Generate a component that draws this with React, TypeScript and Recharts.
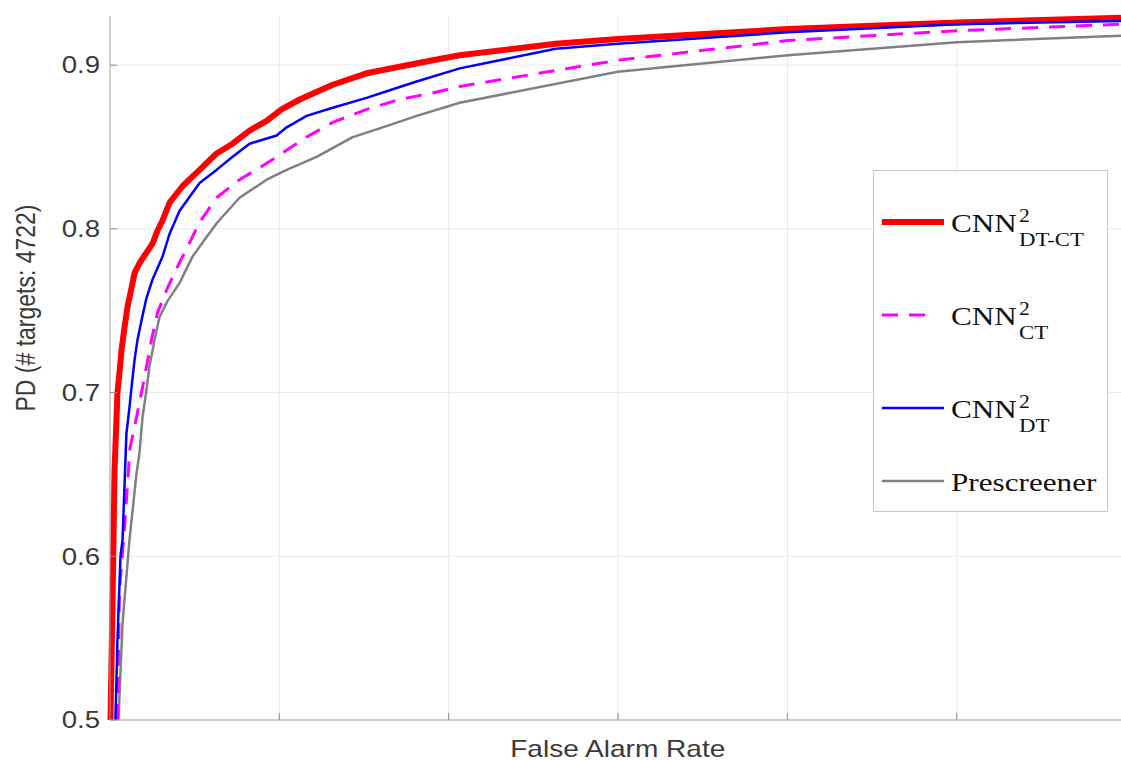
import React from 'react';
import { LineChart, Line, XAxis, YAxis, CartesianGrid, Legend } from 'recharts';

// false alarm rate (x) / probability of detection (y)
const dtCtCurve = [
  { far: 0.003, pd: 0.5 }, { far: 0.015, pd: 0.573 }, { far: 0.027, pd: 0.653 }, { far: 0.038, pd: 0.683 },
  { far: 0.044, pd: 0.7 }, { far: 0.056, pd: 0.712 }, { far: 0.068, pd: 0.726 }, { far: 0.086, pd: 0.74 },
  { far: 0.103, pd: 0.752 }, { far: 0.127, pd: 0.764 }, { far: 0.145, pd: 0.773 }, { far: 0.174, pd: 0.779 },
  { far: 0.251, pd: 0.791 }, { far: 0.281, pd: 0.799 }, { far: 0.31, pd: 0.805 }, { far: 0.352, pd: 0.816 },
  { far: 0.428, pd: 0.826 }, { far: 0.529, pd: 0.836 }, { far: 0.629, pd: 0.846 }, { far: 0.724, pd: 0.852 },
  { far: 0.824, pd: 0.86 }, { far: 0.925, pd: 0.866 }, { far: 1.013, pd: 0.873 }, { far: 1.12, pd: 0.879 },
  { far: 1.315, pd: 0.888 }, { far: 1.515, pd: 0.895 }, { far: 1.71, pd: 0.899 }, { far: 1.906, pd: 0.903 },
  { far: 2.065, pd: 0.906 }, { far: 2.632, pd: 0.913 }, { far: 2.999, pd: 0.916 }, { far: 4.003, pd: 0.922 },
  { far: 5.001, pd: 0.926 }, { far: 5.97, pd: 0.929 },
];

const ctCurve = [
  { far: 0.044, pd: 0.5 }, { far: 0.056, pd: 0.579 }, { far: 0.086, pd: 0.618 }, { far: 0.118, pd: 0.666 },
  { far: 0.157, pd: 0.685 }, { far: 0.186, pd: 0.7 }, { far: 0.216, pd: 0.716 }, { far: 0.245, pd: 0.732 },
  { far: 0.281, pd: 0.749 }, { far: 0.34, pd: 0.764 }, { far: 0.399, pd: 0.777 }, { far: 0.458, pd: 0.789 },
  { far: 0.529, pd: 0.804 }, { far: 0.629, pd: 0.819 }, { far: 0.765, pd: 0.83 }, { far: 0.925, pd: 0.84 },
  { far: 1.043, pd: 0.848 }, { far: 1.161, pd: 0.856 }, { far: 1.315, pd: 0.865 }, { far: 1.515, pd: 0.873 },
  { far: 1.71, pd: 0.879 }, { far: 1.906, pd: 0.883 }, { far: 2.065, pd: 0.887 }, { far: 2.999, pd: 0.903 },
  { far: 4.003, pd: 0.915 }, { far: 5.001, pd: 0.921 }, { far: 5.97, pd: 0.925 },
];

const dtCurve = [
  { far: 0.032, pd: 0.5 }, { far: 0.044, pd: 0.549 }, { far: 0.062, pd: 0.6 }, { far: 0.074, pd: 0.61 },
  { far: 0.092, pd: 0.661 }, { far: 0.097, pd: 0.675 }, { far: 0.115, pd: 0.691 }, { far: 0.127, pd: 0.703 },
  { far: 0.145, pd: 0.72 }, { far: 0.162, pd: 0.732 }, { far: 0.186, pd: 0.744 }, { far: 0.216, pd: 0.758 },
  { far: 0.251, pd: 0.769 }, { far: 0.31, pd: 0.783 }, { far: 0.352, pd: 0.797 }, { far: 0.411, pd: 0.811 },
  { far: 0.529, pd: 0.828 }, { far: 0.629, pd: 0.836 }, { far: 0.724, pd: 0.844 }, { far: 0.824, pd: 0.852 },
  { far: 0.984, pd: 0.857 }, { far: 1.043, pd: 0.862 }, { far: 1.161, pd: 0.869 }, { far: 1.315, pd: 0.874 },
  { far: 1.515, pd: 0.88 }, { far: 1.634, pd: 0.884 }, { far: 1.811, pd: 0.89 }, { far: 2.065, pd: 0.898 },
  { far: 2.632, pd: 0.91 }, { far: 2.999, pd: 0.913 }, { far: 4.003, pd: 0.92 }, { far: 5.001, pd: 0.925 },
  { far: 5.97, pd: 0.927 },
];

const prescreenerCurve = [
  { far: 0.05, pd: 0.5 }, { far: 0.074, pd: 0.559 }, { far: 0.115, pd: 0.61 }, { far: 0.157, pd: 0.651 },
  { far: 0.174, pd: 0.663 }, { far: 0.192, pd: 0.685 }, { far: 0.216, pd: 0.702 }, { far: 0.233, pd: 0.716 },
  { far: 0.263, pd: 0.732 }, { far: 0.292, pd: 0.746 }, { far: 0.34, pd: 0.756 }, { far: 0.411, pd: 0.767 },
  { far: 0.487, pd: 0.783 }, { far: 0.57, pd: 0.795 }, { far: 0.635, pd: 0.804 }, { far: 0.765, pd: 0.819 },
  { far: 0.925, pd: 0.83 }, { far: 1.043, pd: 0.836 }, { far: 1.22, pd: 0.844 }, { far: 1.433, pd: 0.856 },
  { far: 1.61, pd: 0.862 }, { far: 1.811, pd: 0.869 }, { far: 2.065, pd: 0.877 }, { far: 2.999, pd: 0.896 },
  { far: 4.003, pd: 0.906 }, { far: 5.001, pd: 0.914 }, { far: 5.97, pd: 0.918 },
];

const farTicks = [0, 1, 2, 3, 4, 5];
const pdTicks = [0.5, 0.6, 0.7, 0.8, 0.9];

const series = [
  { key: 'dtct', base: 'CNN', sup: '2', sub: 'DT-CT', data: dtCtCurve, color: '#ff0000', width: 6, dash: undefined },
  { key: 'ct', base: 'CNN', sup: '2', sub: 'CT', data: ctCurve, color: '#ff00ff', width: 3, dash: '16 11' },
  { key: 'dt', base: 'CNN', sup: '2', sub: 'DT', data: dtCurve, color: '#0000ff', width: 2.5, dash: undefined },
  { key: 'pre', base: 'Prescreener', sup: '', sub: '', data: prescreenerCurve, color: '#808080', width: 2.5, dash: undefined },
];
const drawOrder = ['pre', 'dtct', 'ct', 'dt'];

const textColor = '#3a3a3a';
const sans = '"Liberation Sans", Arial, Helvetica, sans-serif';
const serif = '"Liberation Serif", "Times New Roman", serif';
const stretch = 1.2;

const YTick = ({ x, y, payload }: any) => (
  <g>
    <line x1={x + 10} x2={x + 17} y1={y} y2={y} stroke="#8c8c8c" />
    <g transform={`translate(${x},${y}) scale(${stretch},1)`}>
      <text x={0} y={0} dy="0.36em" textAnchor="end" fill={textColor} fontSize={23} fontFamily={sans}>
        {payload.value.toFixed(1)}
      </text>
    </g>
  </g>
);

const XTick = ({ x, y, payload }: any) =>
  payload.value === 0 ? <g /> : <line x1={x} x2={x} y1={y} y2={y - 7} stroke="#8c8c8c" />;

const LegendBox = () => {
  const rows = [51, 144, 237, 310];
  return (
    <svg width={235} height={342} style={{ display: 'block', background: '#fff', border: '1px solid #c8c8c8', boxSizing: 'border-box' }}>
      {series.map((s, i) => {
        const cy = rows[i];
        return (
          <g key={s.key}>
            <line x1={8} x2={s.dash ? 60 : 70} y1={cy} y2={cy} stroke={s.color} strokeWidth={s.width} strokeDasharray={s.dash} />
            <g transform={`translate(77,${cy + 10}) scale(${stretch},1)`}>
              <text fontFamily={serif} fontSize={26} fill="#111">{s.base}</text>
            </g>
            {s.sup && (
              <g transform={`translate(145,${cy}) scale(${stretch},1)`}>
                <text fontFamily={serif} fontSize={18} fill="#111">{s.sup}</text>
              </g>
            )}
            {s.sub && (
              <g transform={`translate(145,${cy + 24}) scale(${stretch},1)`}>
                <text fontFamily={serif} fontSize={19} fill="#111">{s.sub}</text>
              </g>
            )}
          </g>
        );
      })}
    </svg>
  );
};

const YLabel = () => (
  <g transform={`translate(25,308) scale(${stretch},1) rotate(-90)`}>
    <text x={0} y={0} dy="0.36em" textAnchor="middle" fill={textColor} fontSize={23} fontFamily={sans}>
      PD (# targets: 4722)
    </text>
  </g>
);

const XLabel = ({ viewBox }: any) => {
  const cx = viewBox.x + 169.25 * 3;
  return (
    <g transform={`translate(${cx},757) scale(1.22,1)`}>
      <text x={0} y={0} textAnchor="middle" fill={textColor} fontSize={23} fontFamily={sans}>
        False Alarm Rate
      </text>
    </g>
  );
};

export default function App() {
  const ordered = drawOrder.map(k => series.find(s => s.key === k)!);
  return (
    <div style={{ position: 'fixed', left: 0, top: 0, width: 1121, height: 760, background: '#fff' }}>
      <style>{'html,body{margin:0;padding:0;overflow:hidden;background:#fff}'}</style>
      <LineChart width={1121} height={760} margin={{ top: 16, right: 0, left: 0, bottom: 0 }}>
        <CartesianGrid stroke="#e8e8e8" strokeWidth={1} horizontalValues={pdTicks} verticalValues={farTicks} />
        <XAxis
          type="number"
          dataKey="far"
          domain={[0, 5.97]}
          ticks={farTicks}
          height={40}
          tickSize={0}
          tickMargin={0}
          tickLine={false}
          tick={<XTick />}
          stroke="#a6a6a6"
          label={<XLabel />}
        />
        <YAxis
          type="number"
          dataKey="pd"
          domain={[0.5, 0.93]}
          ticks={pdTicks}
          width={110}
          tickSize={0}
          tickMargin={10}
          tickLine={false}
          tick={<YTick />}
          stroke="#a6a6a6"
          label={<YLabel />}
        />
        {ordered.map(s => (
          <Line
            key={s.key}
            data={s.data}
            dataKey="pd"
            type="linear"
            stroke={s.color}
            strokeWidth={s.width}
            strokeDasharray={s.dash}
            strokeLinejoin="round"
            dot={false}
            activeDot={false}
            isAnimationActive={false}
            legendType="none"
          />
        ))}
        <Legend
          layout="horizontal"
          align="center"
          verticalAlign="middle"
          content={<LegendBox />}
          wrapperStyle={{ left: 873, top: 170, width: 235, height: 342 }}
        />
      </LineChart>
    </div>
  );
}
